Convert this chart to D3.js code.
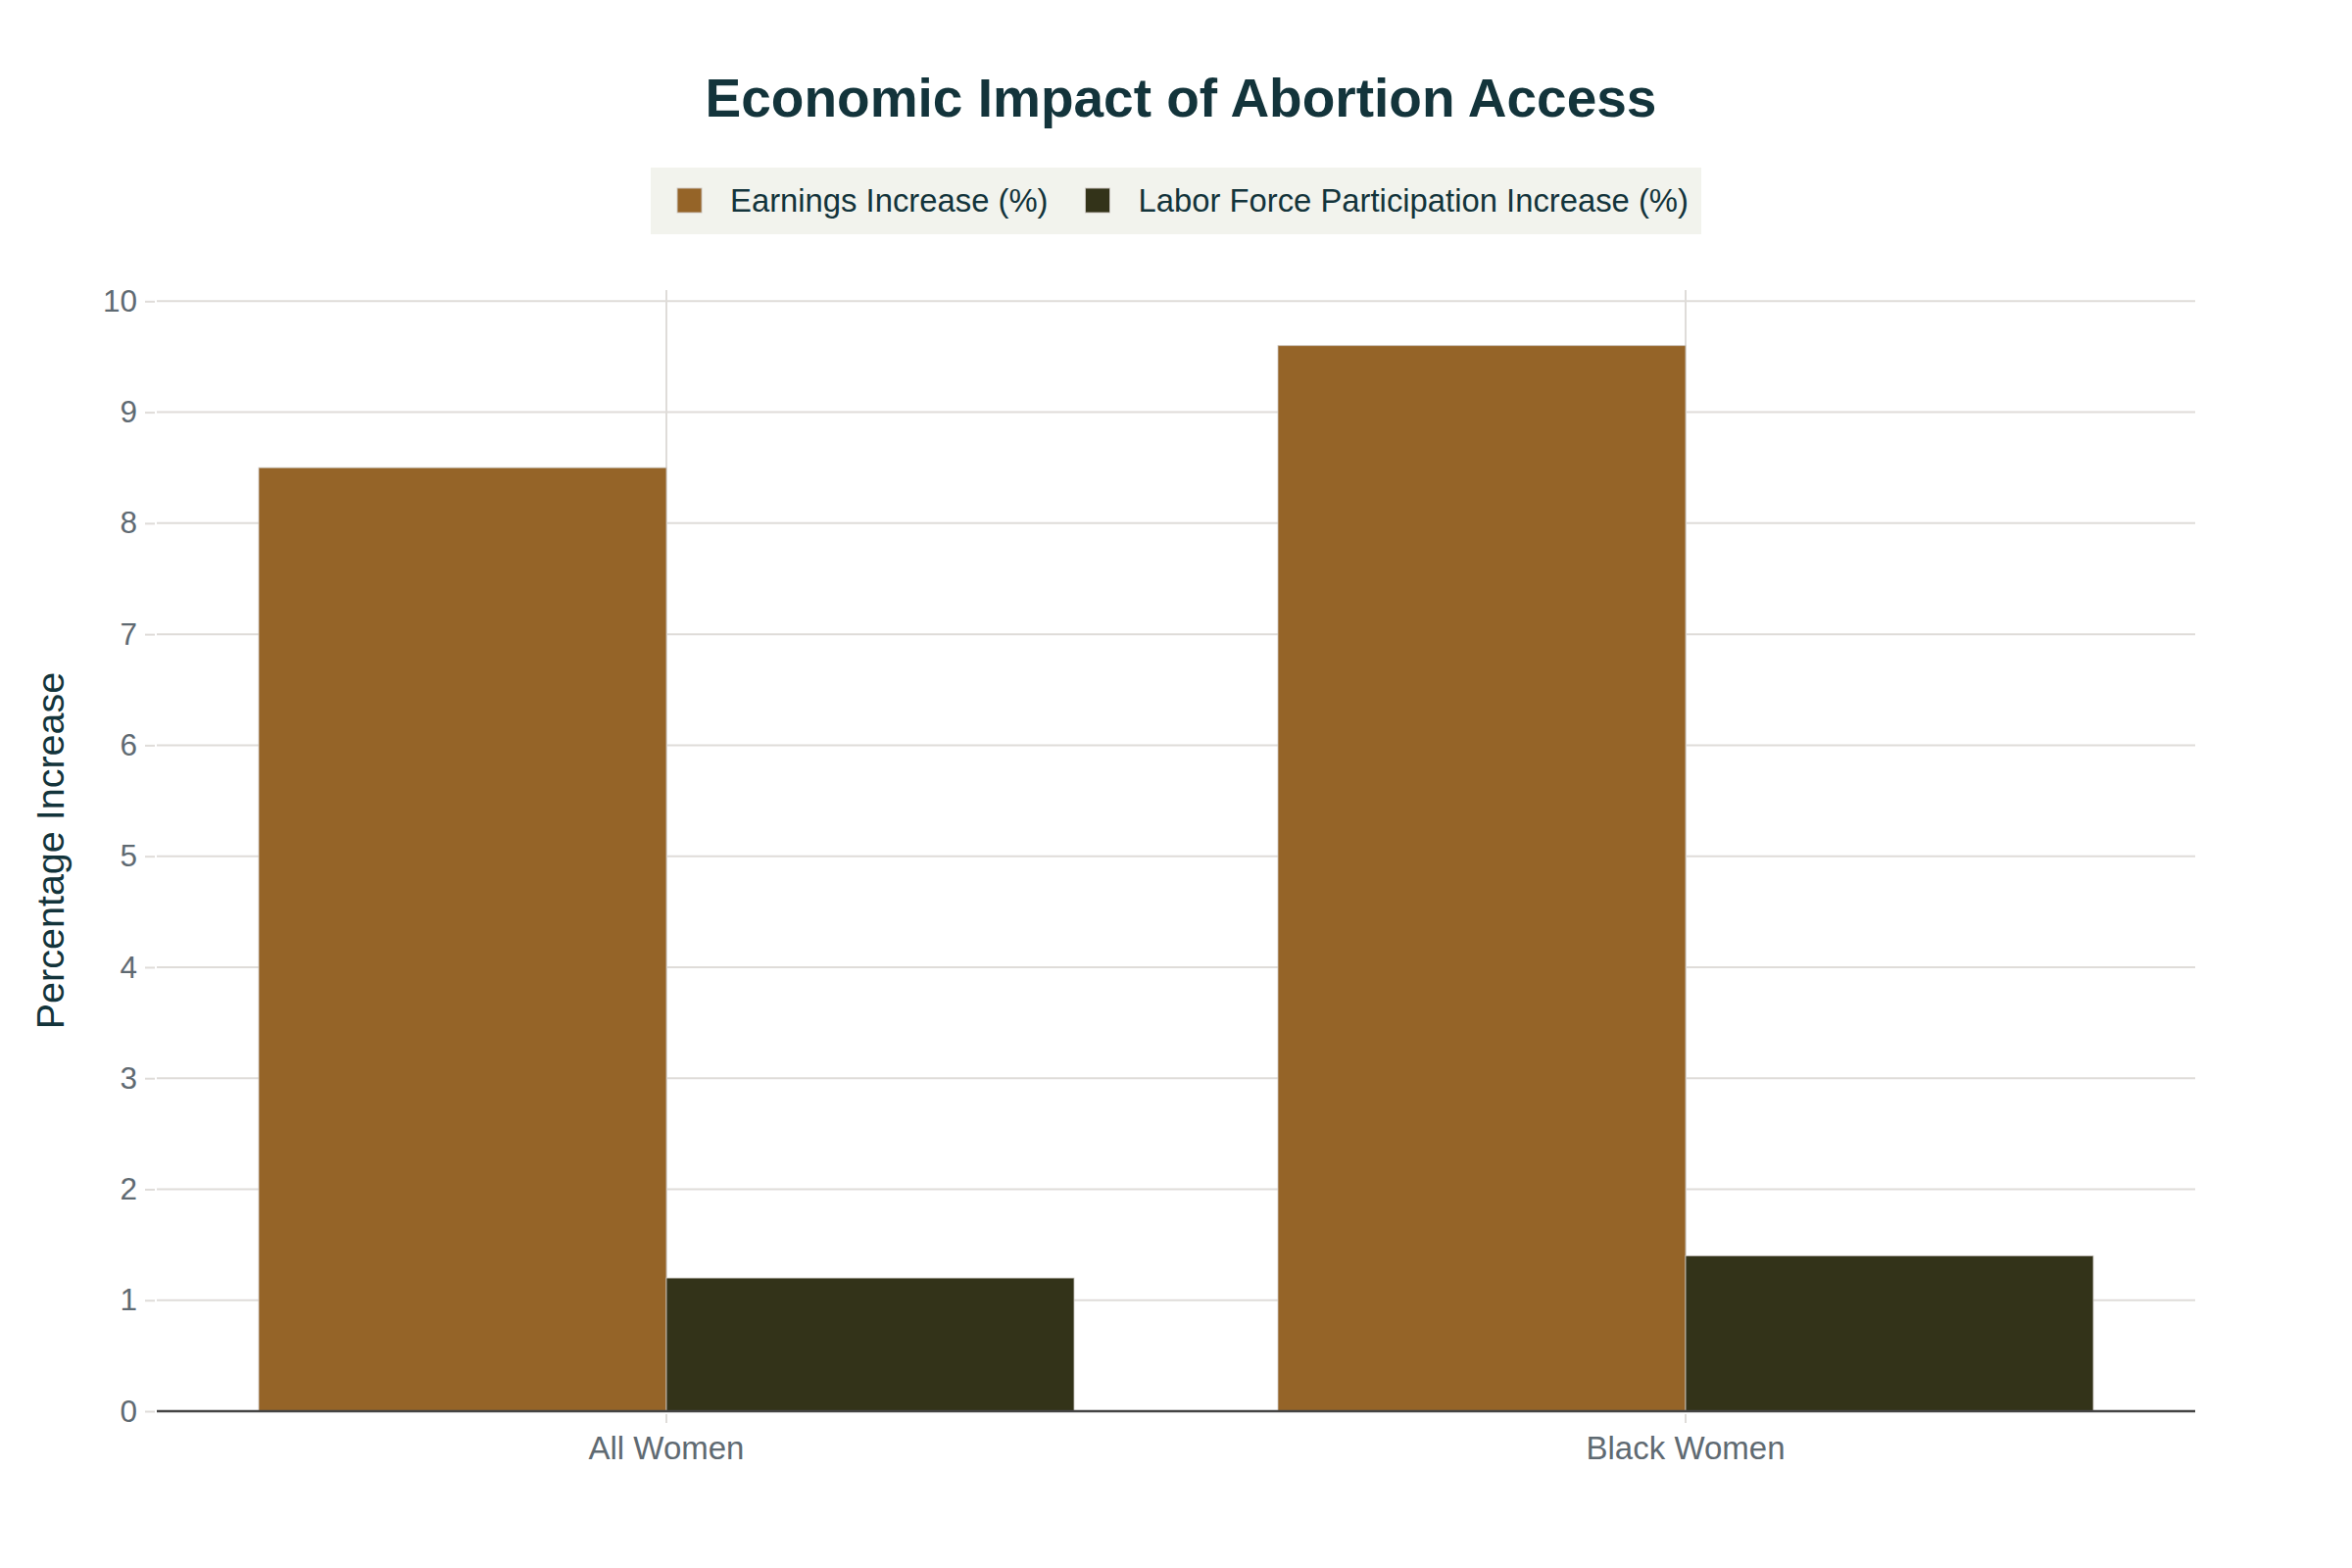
<!DOCTYPE html>
<html>
<head>
<meta charset="utf-8">
<script src="https://cdn.jsdelivr.net/npm/d3@7"></script>
<style>
  html, body { margin: 0; padding: 0; background: #ffffff; }
  svg { display: block; font-family: "Liberation Sans", Arial, Helvetica, sans-serif; }
</style>
</head>
<body>
<svg id="chart" width="2400" height="1600"></svg>
<script>
const categories = ["All Women", "Black Women"];
const seriesNames = ["Earnings Increase (%)", "Labor Force Participation Increase (%)"];
const earnings = [8.5, 9.6];
const laborForce = [1.2, 1.4];
const yTicks = [0, 1, 2, 3, 4, 5, 6, 7, 8, 9, 10];
const titleText = "Economic Impact of Abortion Access";
const yTitle = "Percentage Increase";

const seriesColors = ["#956428", "#333319"];
const seriesValues = [earnings, laborForce];

const W = 2400, H = 1600;
const plot = { left: 160, right: 2240, top: 296, bottom: 1440 };

const svg = d3.select("#chart");
svg.append("rect").attr("width", W).attr("height", H).attr("fill", "#ffffff");

const x = d3.scaleBand().domain(categories).range([plot.left, plot.right]).padding(0);
const xInner = d3.scaleBand().domain(seriesNames).range([0, x.bandwidth()])
  .paddingInner(0).paddingOuter(0.25);
const y = d3.scaleLinear().domain([0, 10.1]).range([plot.bottom, plot.top]);

// horizontal grid
const gridColor = "#dfdcd9";
svg.append("g").selectAll("line").data(yTicks.filter(d => d > 0)).join("line")
  .attr("x1", plot.left).attr("x2", plot.right)
  .attr("y1", d => y(d)).attr("y2", d => y(d))
  .attr("stroke", gridColor).attr("stroke-width", 2);

// vertical grid at category centers
svg.append("g").selectAll("line").data(categories).join("line")
  .attr("x1", d => x(d) + x.bandwidth() / 2).attr("x2", d => x(d) + x.bandwidth() / 2)
  .attr("y1", plot.top).attr("y2", plot.bottom)
  .attr("stroke", gridColor).attr("stroke-width", 2);

// y axis (ticks + labels)
const yAxis = d3.axisLeft(y).tickValues(yTicks).tickSize(10).tickPadding(8).tickFormat(d3.format("d"));
const gy = svg.append("g").attr("transform", `translate(${plot.left - 2},0)`).call(yAxis);
gy.select(".domain").remove();
gy.selectAll(".tick line").attr("stroke", gridColor).attr("stroke-width", 2);
gy.selectAll(".tick text").attr("fill", "#5f6a72").attr("font-size", 31.5)
  .attr("font-family", "'Liberation Sans', Arial, sans-serif");

// bars
const groups = svg.append("g").selectAll("g").data(categories).join("g")
  .attr("transform", d => `translate(${x(d)},0)`);
groups.selectAll("rect")
  .data((c, ci) => seriesNames.map((s, si) => ({ s, si, v: seriesValues[si][ci] })))
  .join("rect")
  .attr("x", d => xInner(d.s))
  .attr("width", xInner.bandwidth())
  .attr("y", d => y(d.v))
  .attr("height", d => y(0) - y(d.v))
  .attr("fill", d => seriesColors[d.si])
  .attr("stroke", "rgba(205,200,195,0.8)")
  .attr("stroke-width", 1);

// x axis
const xAxis = d3.axisBottom(x).tickSize(12).tickPadding(14);
const gx = svg.append("g").attr("transform", `translate(0,${plot.bottom})`).call(xAxis);
gx.select(".domain").remove();
gx.selectAll(".tick line").attr("stroke", gridColor).attr("stroke-width", 2).attr("y1", 3);
gx.selectAll(".tick text").attr("fill", "#5f6a72").attr("font-size", 33)
  .attr("font-family", "'Liberation Sans', Arial, sans-serif");
svg.append("line").attr("x1", plot.left).attr("x2", plot.right)
  .attr("y1", plot.bottom).attr("y2", plot.bottom)
  .attr("stroke", "#444444").attr("stroke-width", 2.5);

// y title
svg.append("text")
  .attr("transform", `translate(65,${(plot.top + plot.bottom) / 2}) rotate(-90)`)
  .attr("text-anchor", "middle")
  .attr("fill", "#13343b").attr("font-size", 39.5)
  .text(yTitle);

// title
svg.append("text")
  .attr("x", 1205).attr("y", 119)
  .attr("text-anchor", "middle")
  .attr("fill", "#13343b").attr("font-size", 55).attr("font-weight", "bold")
  .text(titleText);

// legend
const leg = svg.append("g");
const legBg = leg.append("rect").attr("y", 171).attr("height", 68).attr("fill", "#f2f3ed");
let cx = 0;
const padL = 27, sw = 25, gap = 29, itemGap = 38, padR = 13;
seriesNames.forEach((s, i) => {
  const sx = padL + cx;
  leg.append("rect").attr("x", sx).attr("y", 192).attr("width", sw).attr("height", sw)
    .attr("fill", seriesColors[i]).attr("stroke", "rgba(205,200,195,0.9)").attr("stroke-width", 1);
  const t = leg.append("text").attr("x", sx + sw + gap).attr("y", 216)
    .attr("fill", "#13343b").attr("font-size", 32.8).text(s);
  const tw = t.node().getComputedTextLength();
  cx += sw + gap + tw + itemGap;
});
const totalW = padL + cx - itemGap + padR;
legBg.attr("x", 0).attr("width", totalW);
leg.attr("transform", `translate(${1200 - totalW / 2},0)`);
</script>
</body>
</html>
